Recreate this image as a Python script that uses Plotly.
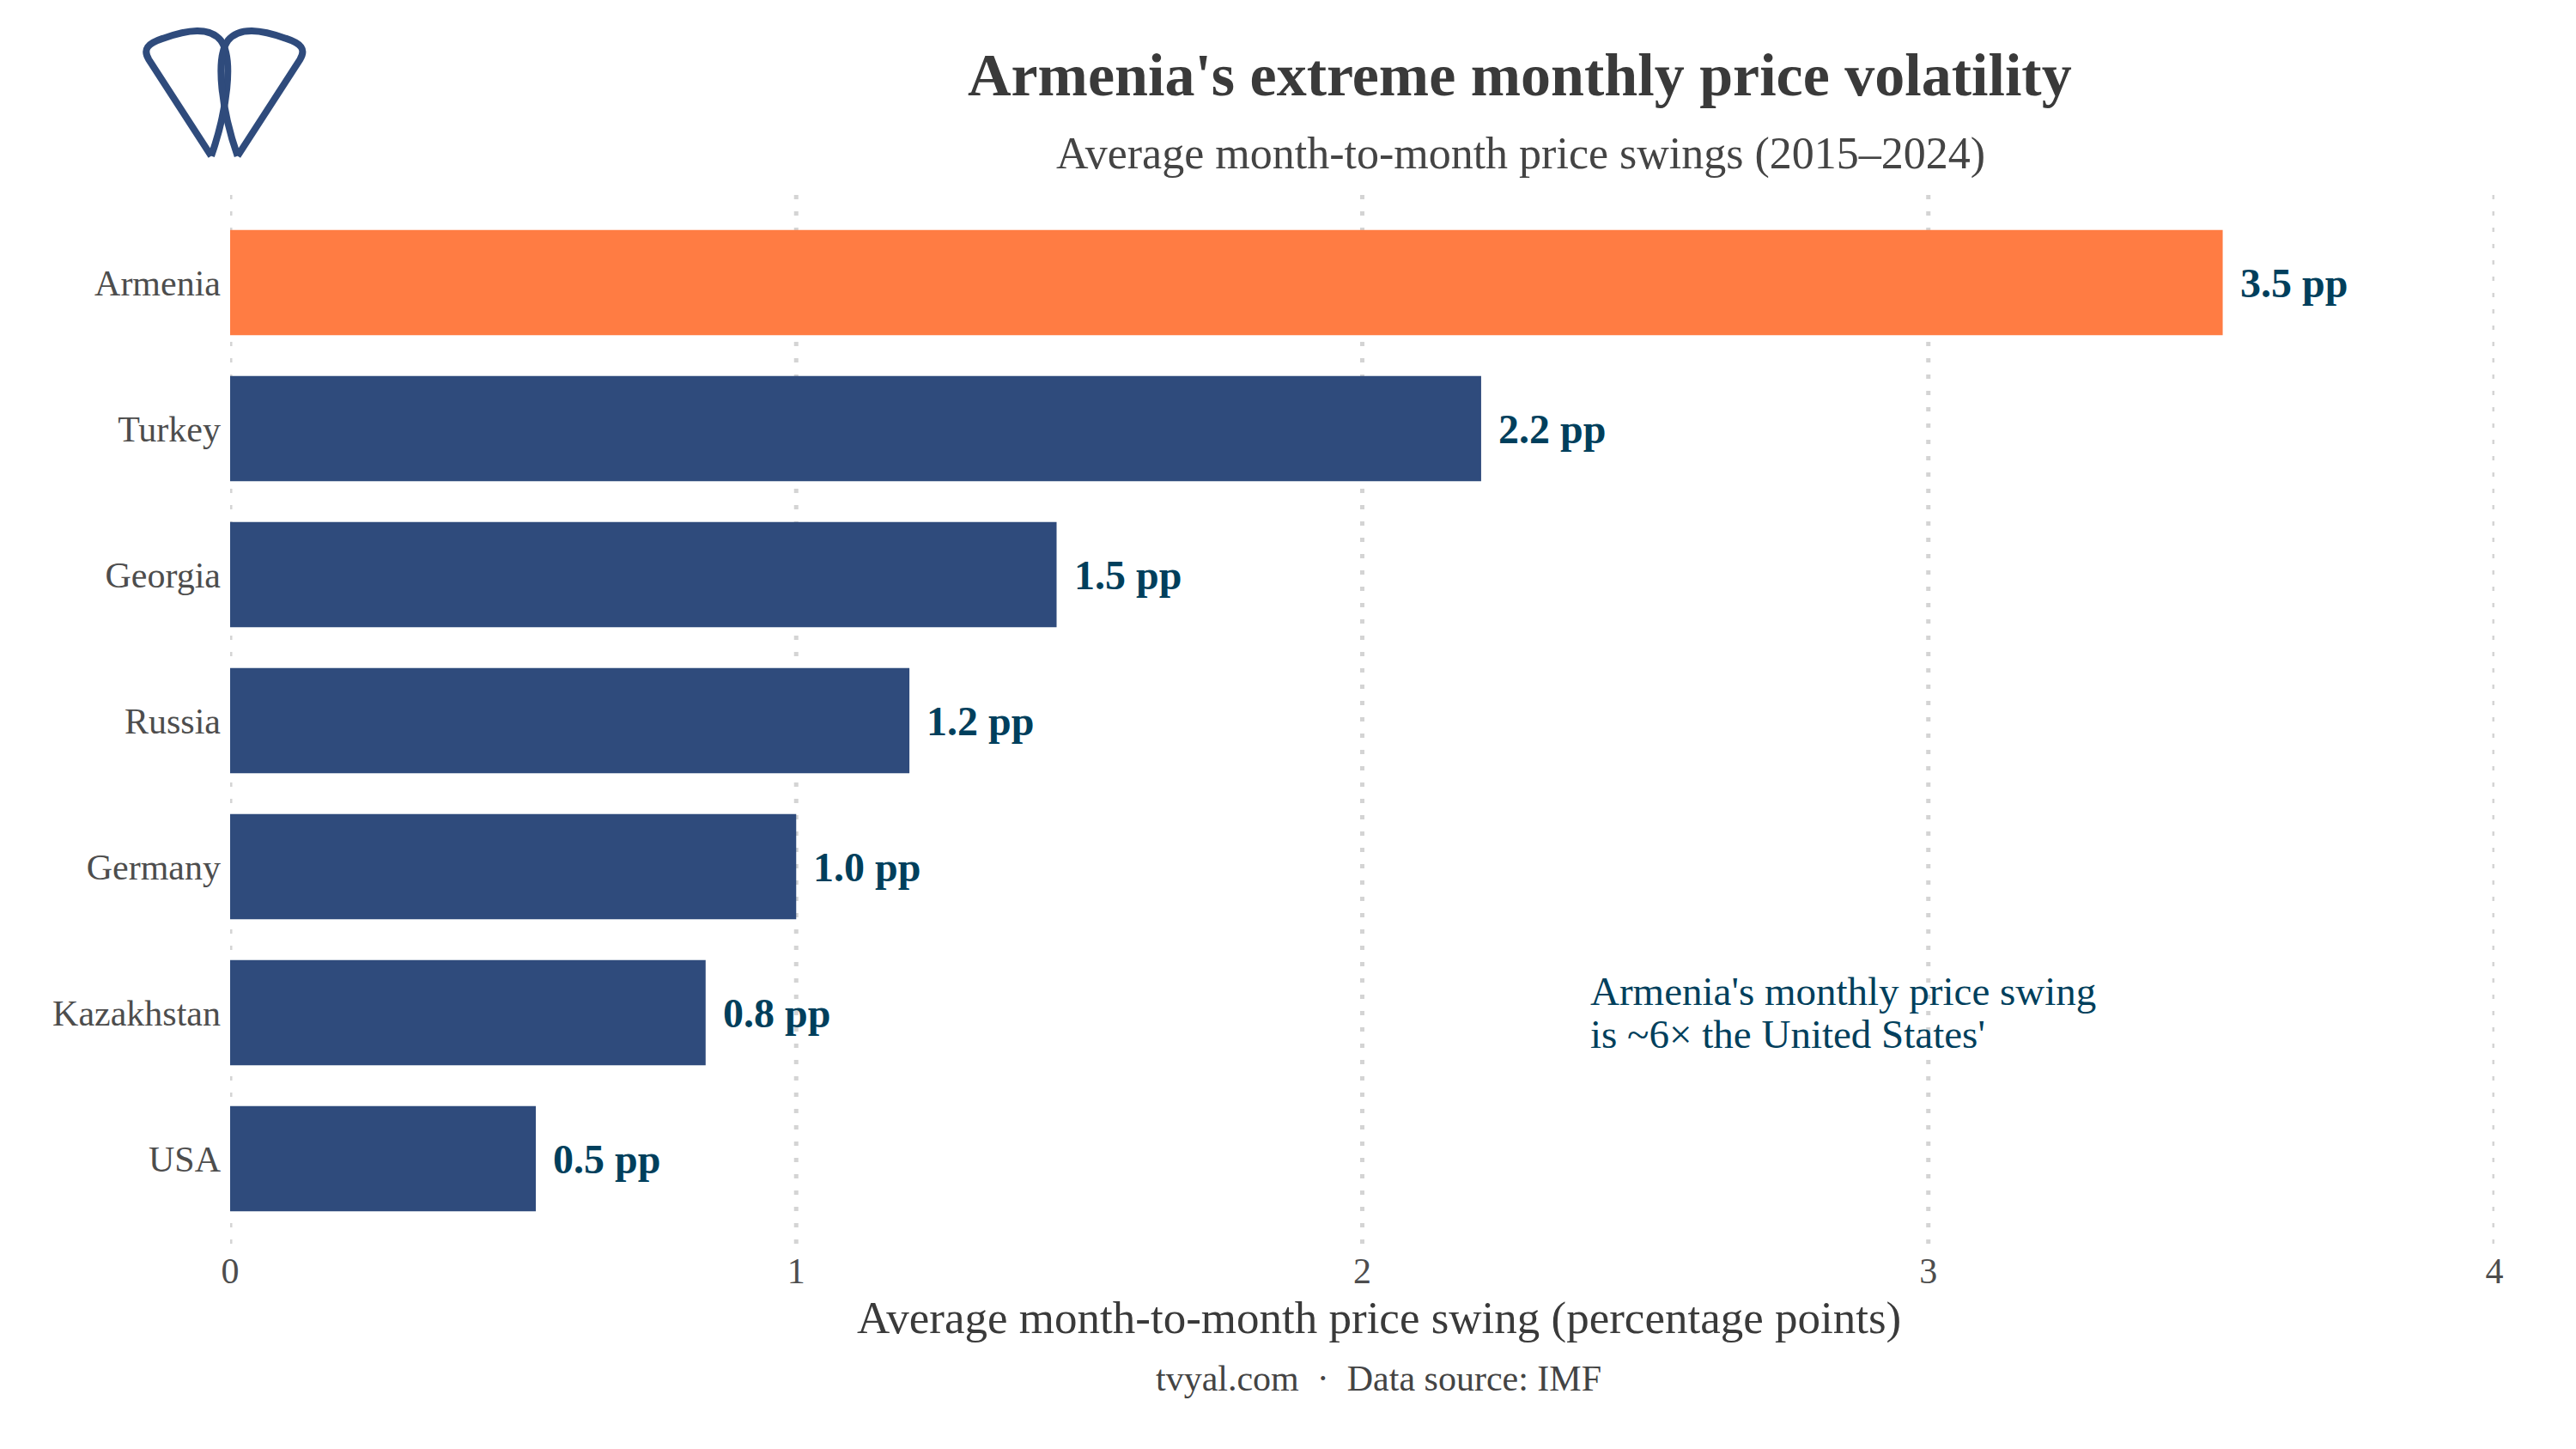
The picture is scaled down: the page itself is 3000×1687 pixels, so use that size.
import plotly.graph_objects as go

# ---- data ----
countries = ["Armenia", "Turkey", "Georgia", "Russia", "Germany", "Kazakhstan", "USA"]
swing_pp = [3.52, 2.21, 1.46, 1.20, 1.00, 0.84, 0.54]
highlight = "Armenia"
x_ticks = [0, 1, 2, 3, 4]

title = "Armenia's extreme monthly price volatility"
subtitle = "Average month-to-month price swings (2015–2024)"
x_title = "Average month-to-month price swing (percentage points)"
footer = "tvyal.com\u00a0\u00a0·\u00a0\u00a0Data source: IMF"
note_lines = ["Armenia's monthly price swing", "is ~6× the United States'"]

# ---- style ----
W, H = 3000, 1687
ML, MR, MT, MB = 268, 95, 227, 236
PW, PH = W - ML - MR, H - MT - MB
FONT = "Liberation Serif, Times New Roman, serif"
ORANGE = "#ff7c43"
NAVY = "#2f4b7c"
TEAL = "#003f5c"
GRID = "#d4d4d4"


def px(x):
    return (x - ML) / PW


def py(y):
    return (H - MB - y) / PH


colors = [ORANGE if c == highlight else NAVY for c in countries]

fig = go.Figure()
fig.add_trace(go.Bar(
    x=swing_pp, y=countries, orientation="h",
    marker=dict(color=colors, line=dict(width=0)),
    width=0.72, hoverinfo="skip",
))

annotations = []
for c, v in zip(countries, swing_pp):
    annotations.append(dict(
        x=v, y=c, xref="x", yref="y", text=f"<b>{v:.1f} pp</b>",
        showarrow=False, xanchor="left", yanchor="middle", xshift=18, yshift=0,
        font=dict(family=FONT, size=48, color=TEAL),
    ))

# note at Kazakhstan row
for i, line in enumerate(note_lines):
    annotations.append(dict(
        x=2.4, y=countries.index("Kazakhstan"), xref="x", yref="y", text=line,
        showarrow=False, xanchor="left", yanchor="middle",
        yshift=25 - 50 * i,
        font=dict(family=FONT, size=47, color=TEAL),
    ))

annotations += [
    dict(x=px(1770), y=py(88), xref="paper", yref="paper", text=f"<b>{title}</b>",
         showarrow=False, xanchor="center", yanchor="middle",
         font=dict(family=FONT, size=70, color="#3a3a3a")),
    dict(x=px(1771), y=py(179), xref="paper", yref="paper", text=subtitle,
         showarrow=False, xanchor="center", yanchor="middle",
         font=dict(family=FONT, size=52, color="#444444")),
    dict(x=px(1606), y=py(1534), xref="paper", yref="paper", text=x_title,
         showarrow=False, xanchor="center", yanchor="middle",
         font=dict(family=FONT, size=53, color="#3a3a3a")),
    dict(x=px(1605), y=py(1605), xref="paper", yref="paper", text=footer,
         showarrow=False, xanchor="center", yanchor="middle",
         font=dict(family=FONT, size=42, color="#444444")),
]

# ---- dotted vertical gridlines at each tick ----
shapes = []
for t in x_ticks:
    shapes.append(dict(
        type="line", xref="x", yref="paper", x0=t, x1=t, y0=1, y1=0,
        line=dict(color=GRID, width=5, dash="5px,14px"), layer="below",
    ))


# ---- logo (decorative) ----
def logo_path(pts_cmds):
    out = []
    for cmd, pts in pts_cmds:
        coords = []
        for (zx, zy) in pts:
            X = 140 + zx / 3.0
            Y = zy / 3.0
            coords.append(f"{px(X):.5f},{py(Y):.5f}")
        out.append(cmd + " " + " ".join(coords))
    return " ".join(out)


left_loop = [
    ("M", [(318, 545)]),
    ("L", [(100, 208)]),
    ("C", [(78, 172), (95, 152), (150, 134)]),
    ("C", [(235, 104), (312, 92), (352, 142)]),
    ("C", [(398, 205), (372, 390), (318, 545)]),
]
right_loop = [(cmd, [(728 - x, y) for (x, y) in pts]) for cmd, pts in left_loop]

for loop in (left_loop, right_loop):
    shapes.append(dict(
        type="path", xref="paper", yref="paper", path=logo_path(loop),
        line=dict(color=NAVY, width=8), fillcolor="rgba(0,0,0,0)", layer="above",
    ))

fig.update_layout(
    width=W, height=H,
    margin=dict(l=ML, r=MR, t=MT, b=MB, pad=0),
    paper_bgcolor="white", plot_bgcolor="white",
    showlegend=False,
    annotations=annotations,
    shapes=shapes,
    font=dict(family=FONT, color="#4d4d4d"),
    xaxis=dict(
        range=[0, 4], tickvals=x_ticks, ticktext=[str(t) for t in x_ticks],
        showgrid=False, zeroline=False, showline=False, ticks="",
        tickfont=dict(family=FONT, size=42, color="#4d4d4d"),
        fixedrange=True,
    ),
    yaxis=dict(
        categoryorder="array", categoryarray=countries,
        range=[len(countries) - 0.4, -0.6],
        showgrid=False, zeroline=False, showline=False, ticks="",
        ticklabelstandoff=10,
        tickfont=dict(family=FONT, size=42, color="#4d4d4d"),
        fixedrange=True,
    ),
)

fig.write_html("out.html")
